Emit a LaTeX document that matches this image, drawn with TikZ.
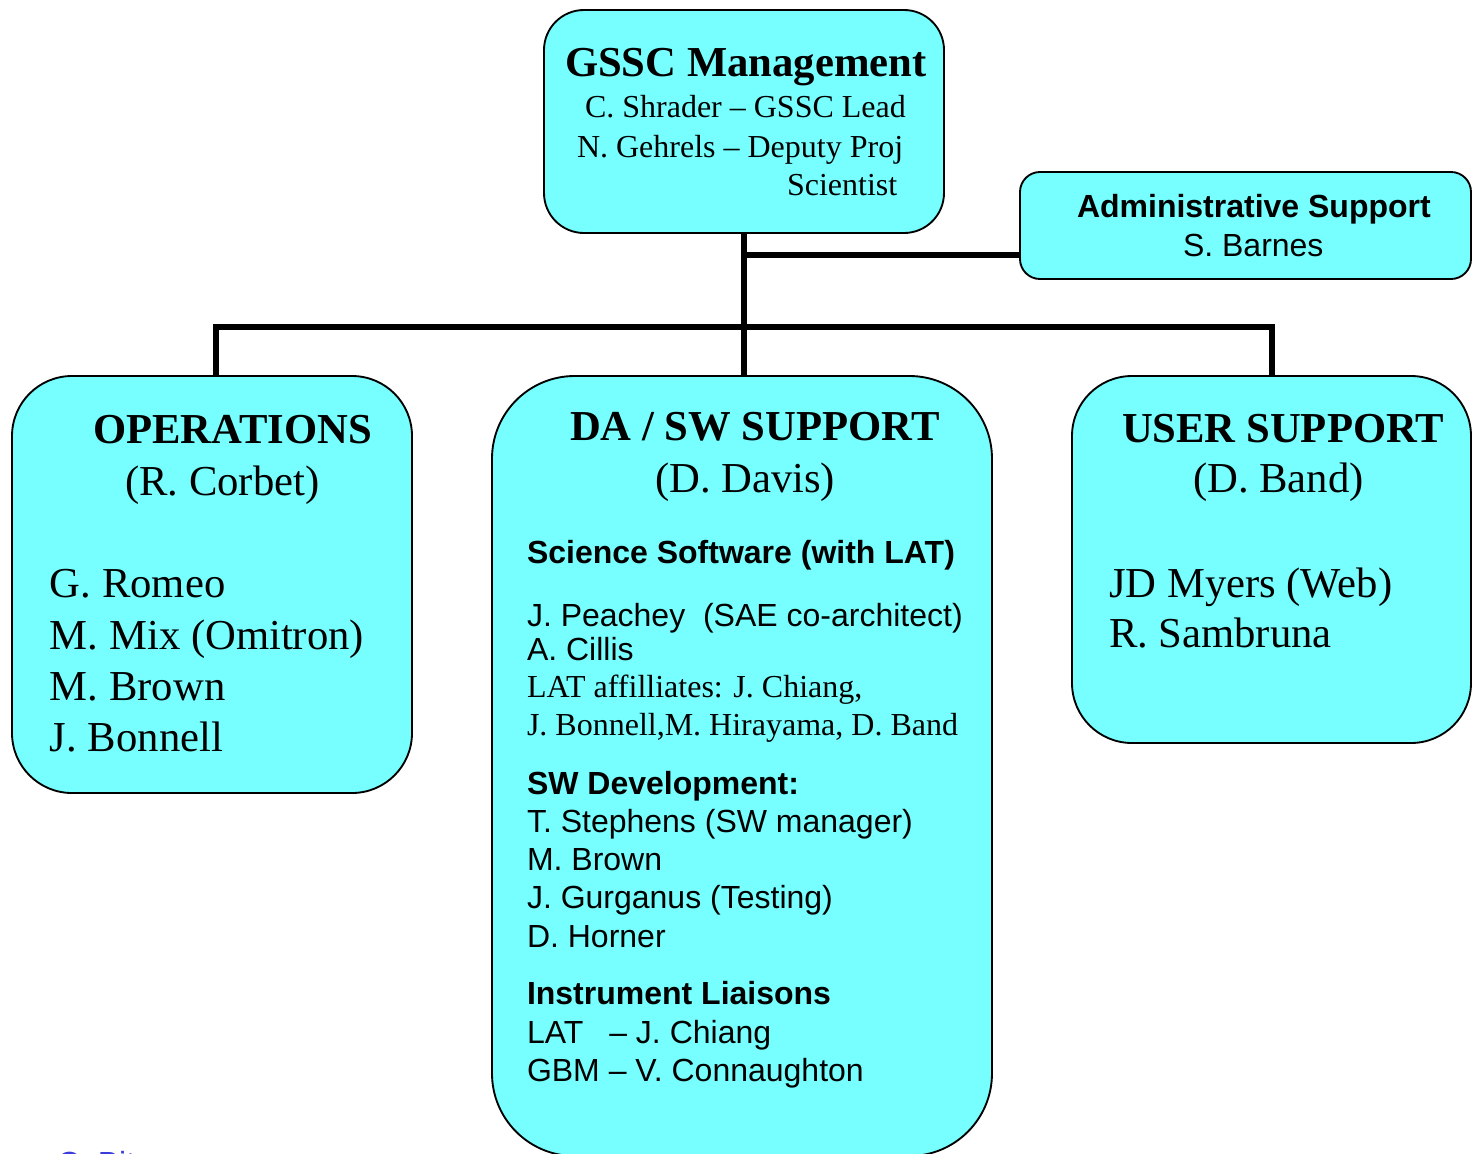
\documentclass[tikz,border=0pt]{standalone}
\usepackage{fontspec}
\setmainfont{Liberation Serif}
\newfontfamily\arialfont[Ligatures=TeX]{Liberation Sans}
\definecolor{boxcyan}{RGB}{119,255,255}
\definecolor{linkblue}{RGB}{60,60,220}
\begin{document}
\begin{tikzpicture}[x=0.75pt,y=-0.75pt,
  box/.style={draw=black, line width=1.4pt, fill=boxcyan, rectangle, inner sep=0pt, outer sep=0pt},
  conn/.style={draw=black, line width=4pt},
  txt/.style={anchor=base west, inner sep=0pt, outer sep=0pt},
  bighead/.style={txt, font=\bfseries\fontsize{32}{36}\selectfont},
  bigtext/.style={txt, font=\fontsize{32}{36}\selectfont},
  sertext/.style={txt, font=\fontsize{24}{28}\selectfont},
  sanstext/.style={txt, font=\arialfont\fontsize{24}{28}\selectfont},
  sanshead/.style={txt, font=\arialfont\bfseries\fontsize{24}{28}\selectfont}
]
\useasboundingbox (0,0) rectangle (1472,1154);
\clip (0,0) rectangle (1472,1154);

% boxes
\node[box, rounded corners=30pt, minimum width=300pt, minimum height=167.25pt] (top) at (744,121.5) {};
\node[box, rounded corners=15pt, minimum width=338.25pt, minimum height=80.25pt] (adm) at (1245.5,225.5) {};
\node[box, rounded corners=45pt, minimum width=300pt, minimum height=312.75pt] (ops) at (212,584.5) {};
\node[box, rounded corners=62pt, minimum width=375pt, minimum height=585pt] (dasw) at (742,766) {};
\node[box, rounded corners=45pt, minimum width=299.25pt, minimum height=275.25pt] (usr) at (1271.5,559.5) {};

% connectors
\coordinate (busL) at (216,327);
\coordinate (busR) at (1272,327);
\draw[conn] (top.south) -- (top.south |- dasw.north);
\draw[conn] (busL |- ops.north) -- (busL) -- (busR) -- (busR |- usr.north);
\draw[conn] ([yshift=-22.1pt]adm.west) -- ([yshift=-22.1pt]adm.west -| top.south);

% GSSC Management
\node[bighead] (g1) at (565,76) {GSSC Management};
\node[sertext] (g2) at (585,117) {C. Shrader – GSSC Lead};
\node[sertext] (g3) at (577,157) {N. Gehrels – Deputy Proj};
\node[sertext] (g4) at (787,195) {Scientist};

% Administrative support
\node[sanshead] (a1) at (1077,217) {Administrative Support};
\node[sanstext] (a2) at (1183,256) {S. Barnes};

% Operations
\node[bighead] (o1) at (93,443) {OPERATIONS};
\node[bigtext] (o2) at (125,495) {(R. Corbet)};
\node[bigtext] (o3) at (50,597) {G. Romeo};
\node[bigtext] (o4) at (50,649) {M. Mix (Omitron)};
\node[bigtext] (o5) at (50,700) {M. Brown};
\node[bigtext] (o6) at (50,751) {J. Bonnell};

% User support
\node[bighead] (u1) at (1122,442) {USER SUPPORT};
\node[bigtext] (u2) at (1193,492) {(D. Band)};
\node[bigtext] (u3) at (1109,597) {JD Myers (Web)};
\node[bigtext] (u4) at (1109,647) {R. Sambruna};

% DA / SW support
\node[bighead] (d1) at (570,440) {DA / SW SUPPORT};
\node[bigtext] (d2) at (655,492) {(D. Davis)};
\node[sanshead] (d3) at (527,563) {Science Software (with LAT)};
\node[sanstext] (d4) at (527,626) {J. Peachey\ \ (SAE co-architect)};
\node[sanstext] (d5) at (527,660) {A. Cillis};
\node[sertext] (d6) at (527,697) {LAT affilliates: J. Chiang,};
\node[sertext] (d7) at (527,735) {J. Bonnell,M. Hirayama, D. Band};
\node[sanshead] (d8) at (527,794) {SW Development:};
\node[sanstext] (d9) at (527,832) {T. Stephens (SW manager)};
\node[sanstext] (d10) at (527,870) {M. Brown};
\node[sanstext] (d11) at (527,908) {J. Gurganus (Testing)};
\node[sanstext] (d12) at (527,947) {D. Horner};
\node[sanshead] (d13) at (527,1004) {Instrument Liaisons};
\node[sanstext] (d14) at (527,1043) {LAT\hspace{19.5pt}– J. Chiang};
\node[sanstext] (d15) at (527,1081) {GBM – V. Connaughton};

% cut-off footer text
\node[sanstext, text=linkblue] (foot) at (57,1174) {C. Bit};
\end{tikzpicture}
\end{document}
